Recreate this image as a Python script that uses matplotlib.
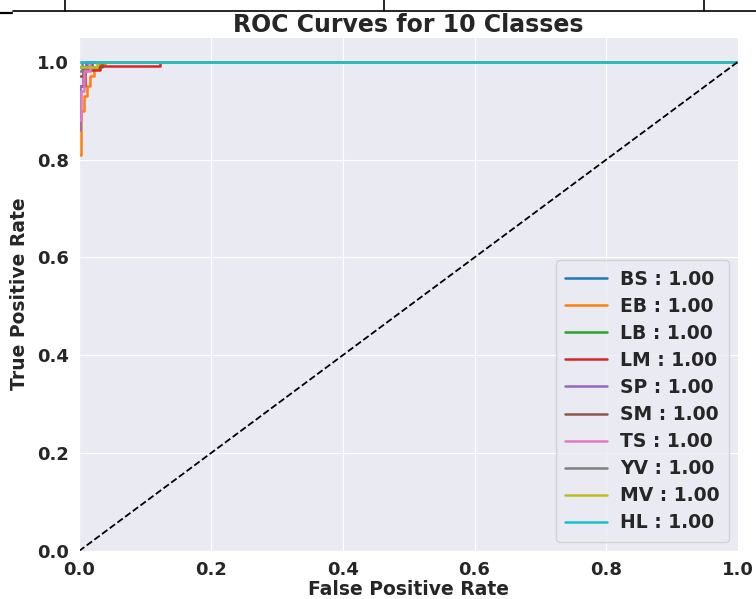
import matplotlib
matplotlib.use("Agg")
import matplotlib.pyplot as plt
from matplotlib.lines import Line2D
import seaborn as sns

# class names and AUC values shown in the legend
class_names = ["BS", "EB", "LB", "LM", "SP", "SM", "TS", "YV", "MV", "HL"]
auc_values = [1.00, 1.00, 1.00, 1.00, 1.00, 1.00, 1.00, 1.00, 1.00, 1.00]

# roc points (fpr, tpr) per class
fpr_bs = [0.0, 0.010, 0.010, 1.0]
tpr_bs = [0.99, 0.99, 1.0, 1.0]
fpr_eb = [0.0, 0.003, 0.003, 0.008, 0.008, 0.012, 0.012, 0.017, 0.017, 0.022, 0.022,
          0.030, 0.030, 0.040, 0.040, 1.0]
tpr_eb = [0.81, 0.81, 0.90, 0.90, 0.93, 0.93, 0.95, 0.95, 0.97, 0.97, 0.985,
          0.985, 0.995, 0.995, 1.0, 1.0]
fpr_lb = [0.0, 0.035, 0.035, 1.0]
tpr_lb = [0.99, 0.99, 1.0, 1.0]
fpr_lm = [0.0, 0.009, 0.009, 0.032, 0.032, 0.123, 0.123, 1.0]
tpr_lm = [0.95, 0.95, 0.982, 0.982, 0.992, 0.992, 1.0, 1.0]
fpr_sp = [0.0, 0.002, 0.002, 0.006, 0.006, 0.012, 0.012, 1.0]
tpr_sp = [0.86, 0.86, 0.95, 0.95, 0.98, 0.98, 1.0, 1.0]
fpr_sm = [0.0, 0.006, 0.006, 0.020, 0.020, 1.0]
tpr_sm = [0.97, 0.97, 0.99, 0.99, 1.0, 1.0]
fpr_ts = [0.0, 0.003, 0.003, 0.008, 0.008, 0.016, 0.016, 1.0]
tpr_ts = [0.88, 0.88, 0.94, 0.94, 0.98, 0.98, 1.0, 1.0]
fpr_yv = [0.0, 0.005, 0.005, 1.0]
tpr_yv = [0.98, 0.98, 1.0, 1.0]
fpr_mv = [0.0, 0.028, 0.028, 1.0]
tpr_mv = [0.99, 0.99, 1.0, 1.0]
fpr_hl = [0.0, 1.0]
tpr_hl = [1.0, 1.0]

fpr_list = [fpr_bs, fpr_eb, fpr_lb, fpr_lm, fpr_sp, fpr_sm, fpr_ts, fpr_yv, fpr_mv, fpr_hl]
tpr_list = [tpr_bs, tpr_eb, tpr_lb, tpr_lm, tpr_sp, tpr_sm, tpr_ts, tpr_yv, tpr_mv, tpr_hl]

sns.set_style("darkgrid")
plt.rcParams["font.family"] = ["DejaVu Sans"]
plt.rcParams["font.weight"] = "bold"

fig = plt.figure(figsize=(7.56, 5.99), dpi=100)
ax = fig.add_axes([0.1045, 0.080, 0.872, 0.858])

colors = plt.get_cmap("tab10").colors
for i, name in enumerate(class_names):
    ax.plot(fpr_list[i], tpr_list[i], color=colors[i], lw=1.8,
            label=f"{name} : {auc_values[i]:.2f}")

ax.plot([0, 1], [0, 1], "k--", lw=1.3)
ax.set_xlim(0, 1)
ax.set_ylim(0, 1.05)
ax.set_xticks([0, 0.2, 0.4, 0.6, 0.8, 1.0])
ax.set_yticks([0, 0.2, 0.4, 0.6, 0.8, 1.0])
ax.tick_params(labelsize=13)
for lab in ax.get_xticklabels() + ax.get_yticklabels():
    lab.set_fontweight("bold")
ax.set_xlabel("False Positive Rate", fontsize=13.5, fontweight="bold", labelpad=1)
ax.set_ylabel("True Positive Rate", fontsize=13.5, fontweight="bold", labelpad=6)
ax.set_title("ROC Curves for 10 Classes", fontsize=17, fontweight="bold", pad=4)
ax.legend(loc="lower right", prop={"size": 13.5, "weight": "bold"},
          handlelength=2.2, handletextpad=0.7, labelspacing=0.43, borderpad=0.5)

# remnants of a table row cut off at the top of the picture
W, H = 756, 599
def px_line(x0, y0, x1, y1, lw=1.2):
    fig.add_artist(Line2D([x0 / W, x1 / W], [1 - y0 / H, 1 - y1 / H],
                          transform=fig.transFigure, color="black", lw=lw))

px_line(13, 11, 756, 11)
px_line(0, 12.5, 12, 12.5, lw=1.6)
for xv in [65, 384, 704]:
    px_line(xv, 0, xv, 11)

fig.savefig("out.png", dpi=100)
